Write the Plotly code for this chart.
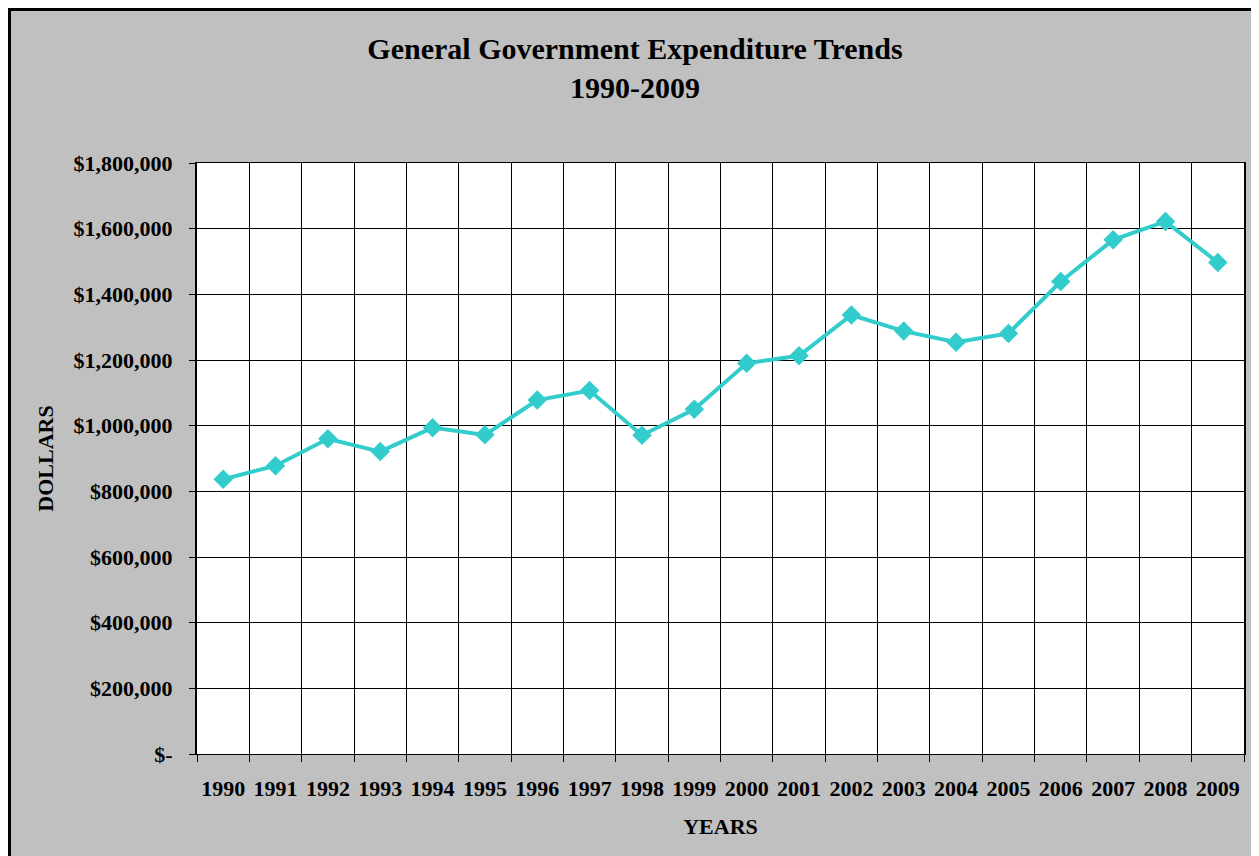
import plotly.graph_objects as go

years = ["1990", "1991", "1992", "1993", "1994", "1995", "1996", "1997", "1998", "1999",
         "2000", "2001", "2002", "2003", "2004", "2005", "2006", "2007", "2008", "2009"]
expenditure = [837000, 878000, 960000, 921000, 994000, 972000, 1078000, 1107000, 971000, 1050000,
               1190000, 1213000, 1337000, 1288000, 1254000, 1281000, 1439000, 1566000, 1622000, 1497000]
y_tick_values = [0, 200000, 400000, 600000, 800000, 1000000, 1200000, 1400000, 1600000, 1800000]
y_tick_labels = ["$-", "$200,000", "$400,000", "$600,000", "$800,000", "$1,000,000",
                 "$1,200,000", "$1,400,000", "$1,600,000", "$1,800,000"]

# page is rendered with an 8px body margin, so figure coords = page coords - 8
W, H = 1251, 848
ML, MR, MT, MB = 189, 15, 155, 102
PW = W - ML - MR
PH = H - MT - MB

font_family = "Liberation Serif, Times New Roman, serif"

fig = go.Figure()
fig.add_trace(go.Scatter(
    x=years, y=expenditure, mode="lines+markers",
    line=dict(color="#33CCCC", width=4),
    marker=dict(symbol="diamond", size=15, color="#33CCCC"),
    showlegend=False,
))

fig.update_layout(
    width=W, height=H,
    margin=dict(l=ML, r=MR, t=MT, b=MB, autoexpand=False),
    paper_bgcolor="#C0C0C0",
    plot_bgcolor="#FFFFFF",
    font=dict(family=font_family, size=22, color="#000000", weight="bold"),
    title=dict(
        text="General Government Expenditure Trends<br>1990-2009",
        font=dict(family=font_family, size=30, color="#000000", weight="bold"),
        x=627 / W, xanchor="center", xref="container",
        y=1 - 51 / H, yanchor="middle", yref="container",
    ),
    xaxis=dict(
        type="category",
        range=[-0.5, len(years) - 0.5],
        tickson="boundaries",
        tickangle=0,
        ticks="outside", ticklen=7, tickcolor="#000000", tickwidth=1,
        showgrid=True, gridcolor="#000000", gridwidth=1,
        showline=True, linecolor="#000000", linewidth=1, mirror=True,
        tickfont=dict(family=font_family, size=22, color="#000000", weight="bold"),
        ticklabelstandoff=15,
        title=dict(text="YEARS", font=dict(family=font_family, size=22, color="#000000", weight="bold"),
                   standoff=18),
        automargin=False,
    ),
    yaxis=dict(
        range=[0, 1800000],
        tickvals=y_tick_values, ticktext=y_tick_labels,
        ticks="outside", ticklen=6, tickcolor="#000000", tickwidth=1,
        showgrid=True, gridcolor="#000000", gridwidth=1,
        showline=True, linecolor="#000000", linewidth=2, mirror=True,
        zeroline=False,
        tickfont=dict(family=font_family, size=22, color="#000000", weight="bold"),
        ticklabelstandoff=12,
        title=dict(text="DOLLARS", font=dict(family=font_family, size=22, color="#000000", weight="bold"),
                   standoff=14),
        automargin=False,
    ),
)


def px_to_paper_x(px):
    return (px - ML) / PW


def px_to_paper_y(py):
    return 1 - (py - MT) / PH


# outer chart frame: thick on left/top, only a sliver of the right edge visible
fig.add_shape(
    type="rect", xref="paper", yref="paper",
    x0=px_to_paper_x(1.5), x1=px_to_paper_x(W + 40),
    y0=px_to_paper_y(1.5), y1=px_to_paper_y(H + 40),
    line=dict(color="#000000", width=3), fillcolor="rgba(0,0,0,0)",
    layer="below",
)
fig.add_shape(
    type="line", xref="paper", yref="paper",
    x0=px_to_paper_x(W - 1.5), x1=px_to_paper_x(W - 1.5),
    y0=px_to_paper_y(0), y1=px_to_paper_y(H + 40),
    line=dict(color="#404040", width=1),
    layer="below",
)

fig.write_html("out.html")
